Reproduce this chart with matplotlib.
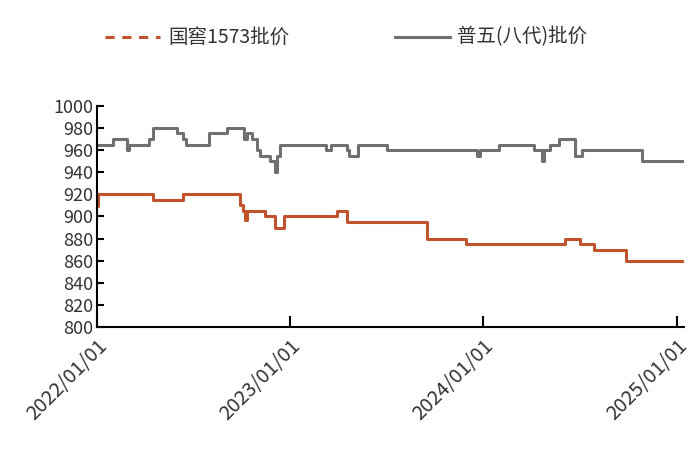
import numpy as np
import pandas as pd
import matplotlib.pyplot as plt

plt.rcParams['font.family'] = ['Noto Sans CJK SC', 'DejaVu Sans']

# ---------------------------------------------------------------------------
# Data (step series: date of change -> price)
# ---------------------------------------------------------------------------
gj_dates = ["2022-01-01", "2022-01-03", "2022-04-17", "2022-06-13", "2022-09-28",
            "2022-10-04", "2022-10-08", "2022-10-12", "2022-11-15", "2022-12-04",
            "2022-12-21", "2023-03-31", "2023-04-19", "2023-09-17", "2023-11-30",
            "2024-06-04", "2024-07-02", "2024-07-29", "2024-09-27", "2025-01-15"]
gj_price = [909, 920, 915, 920, 910, 905, 897, 905, 900, 890,
            900, 905, 895, 880, 875, 880, 875, 870, 860, 860]

pw_dates = ["2022-01-01", "2022-01-31", "2022-02-27", "2022-03-02", "2022-04-09",
            "2022-04-17", "2022-06-01", "2022-06-13", "2022-06-18", "2022-08-01",
            "2022-09-04", "2022-10-06", "2022-10-12", "2022-10-21", "2022-10-31",
            "2022-11-05", "2022-11-24", "2022-12-04", "2022-12-07", "2022-12-13",
            "2023-03-10", "2023-03-19", "2023-04-19", "2023-04-23", "2023-05-10",
            "2023-07-03", "2023-12-21", "2023-12-26", "2024-01-31", "2024-04-06",
            "2024-04-22", "2024-04-25", "2024-05-07", "2024-05-24", "2024-06-23",
            "2024-07-06", "2024-10-28", "2025-01-15"]
pw_price = [965, 970, 960, 965, 970, 980, 975, 970, 965, 975,
            980, 970, 975, 970, 960, 955, 950, 940, 955, 965,
            960, 965, 960, 955, 965, 960, 955, 960, 965, 960,
            950, 960, 965, 970, 955, 960, 950, 950]

tick_dates = ["2022-01-01", "2023-01-01", "2024-01-01", "2025-01-01"]
tick_labels = ["2022/01/01", "2023/01/01", "2024/01/01", "2025/01/01"]

orange = "#C0532B"
gray = "#707070"

fig = plt.figure(figsize=(7, 4.62), dpi=100)
ax = fig.add_axes([0.139, 0.292, 0.838, 0.479])

ax.step(pd.to_datetime(gj_dates), gj_price, where="post", color=orange, lw=2.2)
ax.step(pd.to_datetime(pw_dates), pw_price, where="post", color=gray, lw=2.2)

ax.set_ylim(800, 1000)
ax.set_yticks(np.arange(800, 1001, 20))
ax.set_xlim(pd.Timestamp("2022-01-01"), pd.Timestamp("2025-01-15"))
ax.set_xticks(pd.to_datetime(tick_dates))
ax.set_xticklabels(tick_labels, rotation=45, ha="right", rotation_mode="anchor",
                   fontsize=14.5, color="#333333")
ax.tick_params(axis="y", labelsize=13, direction="in", length=5, width=1.5,
               labelcolor="#333333", pad=3)
ax.tick_params(axis="x", direction="in", length=8, width=1.5, pad=6)
for s in ["top", "right"]:
    ax.spines[s].set_visible(False)
for s in ["left", "bottom"]:
    ax.spines[s].set_linewidth(1.5)

# legend on top
fig.lines.append(plt.Line2D([105 / 700, 160 / 700], [1 - 37 / 462] * 2, transform=fig.transFigure,
                            color=orange, lw=2.2, ls=(0, (3, 2.5))))
fig.text(168 / 700, 1 - 37 / 462, "国窖1573批价", fontsize=14, va="center", color="#333333")
fig.lines.append(plt.Line2D([395 / 700, 450 / 700], [1 - 37 / 462] * 2, transform=fig.transFigure,
                            color=gray, lw=2.2))
fig.text(457 / 700, 1 - 37 / 462, "普五(八代)批价", fontsize=14, va="center", color="#333333")

fig.savefig("out.png", dpi=100)
